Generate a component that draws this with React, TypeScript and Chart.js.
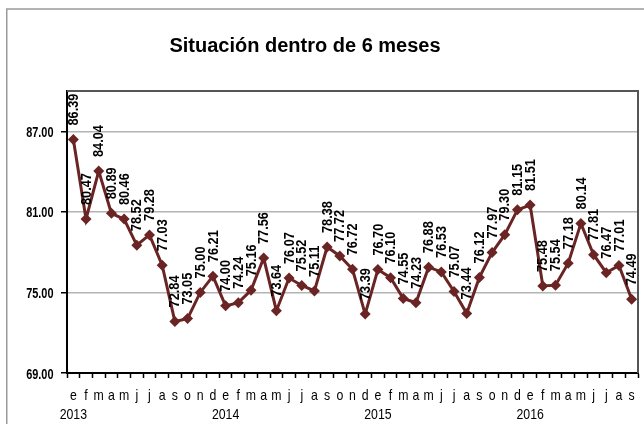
import React, { useEffect, useRef } from 'react';
import { Chart, registerables } from 'chart.js';

Chart.register(...registerables);

const TITLE = 'Situación dentro de 6 meses';
const monthLetters = ['e', 'f', 'm', 'a', 'm', 'j', 'j', 'a', 's', 'o', 'n', 'd'];
const years = ['2013', '2014', '2015', '2016'];
const values2013 = [86.39, 80.47, 84.04, 80.89, 80.46, 78.52, 79.28, 77.03, 72.84, 73.05, 75.0, 76.21];
const values2014 = [74.0, 74.24, 75.16, 77.56, 73.64, 76.07, 75.52, 75.11, 78.38, 77.72, 76.72, 73.39];
const values2015 = [76.7, 76.1, 74.55, 74.23, 76.88, 76.53, 75.07, 73.44, 76.12, 77.97, 79.3, 81.15];
const values2016 = [81.51, 75.48, 75.54, 77.18, 80.14, 77.81, 76.47, 77.01, 74.49];
const yTicks = [69, 75, 81, 87];
const Y_MIN = 69;
const Y_MAX = 90;

const values = [...values2013, ...values2014, ...values2015, ...values2016];
const labels = values.map((_, i) => monthLetters[i % 12]);
const yearOf = (i: number) => (i % 12 === 0 ? years[Math.floor(i / 12)] : '');

const FONT = "'Liberation Sans', Arial, sans-serif";
const LINE_COLOR = '#6B2424';

function narrowText(ctx: any, text: string, x: number, y: number, align: string, sx: number) {
  ctx.save();
  ctx.translate(x, y);
  ctx.scale(sx, 1);
  ctx.textAlign = align;
  ctx.fillText(text, 0, 0);
  ctx.restore();
}

const framePlugin = {
  id: 'frame',
  beforeDraw(chart: any) {
    const ctx = chart.ctx;
    ctx.save();
    ctx.fillStyle = '#ffffff';
    ctx.fillRect(0, 0, chart.width, chart.height);
    ctx.strokeStyle = '#9a9a9a';
    ctx.lineWidth = 1.5;
    ctx.strokeRect(6.75, 9, chart.width + 20, chart.height + 20);
    ctx.fillStyle = '#000000';
    ctx.font = `bold 20px ${FONT}`;
    ctx.textAlign = 'center';
    ctx.textBaseline = 'alphabetic';
    ctx.fillText(TITLE, 305, 52);
    ctx.restore();
  },
  afterDraw(chart: any) {
    const { ctx, chartArea } = chart;
    ctx.save();
    ctx.strokeStyle = '#555555';
    ctx.lineWidth = 2;
    ctx.beginPath();
    ctx.moveTo(chartArea.left, chartArea.top);
    ctx.lineTo(chartArea.right, chartArea.top);
    ctx.lineTo(chartArea.right, chartArea.bottom);
    ctx.stroke();

    // axis labels
    const xs = chart.scales.x;
    const ys = chart.scales.y;
    ctx.fillStyle = '#000000';
    ctx.textBaseline = 'alphabetic';
    ctx.font = `bold 14px ${FONT}`;
    yTicks.forEach((v) => {
      narrowText(ctx, v.toFixed(2), 53.5, ys.getPixelForValue(v) + 5.5, 'right', 0.78);
    });
    ctx.font = `15px ${FONT}`;
    labels.forEach((m, i) => {
      const x = xs.getPixelForValue(i);
      narrowText(ctx, m, x, 399.5, 'center', 0.82);
      const yr = yearOf(i);
      if (yr) narrowText(ctx, yr, x, 418.5, 'center', 0.82);
    });
    ctx.restore();
  },
};

const labelPlugin = {
  id: 'vlabels',
  afterDatasetsDraw(chart: any) {
    const ctx = chart.ctx;
    const meta = chart.getDatasetMeta(0);
    const data = chart.data.datasets[0].data as number[];
    ctx.save();
    ctx.fillStyle = '#000000';
    ctx.font = `bold 15px ${FONT}`;
    ctx.textAlign = 'left';
    ctx.textBaseline = 'middle';
    meta.data.forEach((pt: any, i: number) => {
      ctx.save();
      ctx.translate(pt.x, pt.y - 14);
      ctx.rotate(-Math.PI / 2);
      ctx.scale(0.85, 1);
      ctx.fillText(data[i].toFixed(2), 0, 0.5);
      ctx.restore();
    });
    ctx.restore();
  },
};

export default function App() {
  const ref = useRef<HTMLCanvasElement | null>(null);

  useEffect(() => {
    document.body.style.margin = '0';
    const canvas = ref.current;
    if (!canvas) return;
    const chart = new Chart(canvas, {
      type: 'line',
      data: {
        labels,
        datasets: [
          {
            data: values,
            borderColor: LINE_COLOR,
            backgroundColor: LINE_COLOR,
            borderWidth: 3,
            pointStyle: 'rectRot',
            pointRadius: 5.5,
            pointBorderWidth: 0,
            pointBackgroundColor: LINE_COLOR,
            tension: 0,
          },
        ],
      },
      options: {
        responsive: false,
        animation: false,
        layout: { padding: { top: 91, right: 6, left: 0, bottom: 0 } },
        plugins: {
          legend: { display: false },
          title: { display: false },
          tooltip: { enabled: false },
        },
        scales: {
          x: {
            type: 'category',
            offset: true,
            grid: {
              offset: true,
              drawOnChartArea: false,
              drawTicks: true,
              tickLength: 5,
              tickColor: '#000000',
              tickWidth: 1.5,
            },
            border: { color: '#000000', width: 2 },
            ticks: { display: false, autoSkip: false, maxRotation: 0, minRotation: 0 },
            afterFit(scale: any) {
              scale.height = 51;
            },
          },
          y: {
            type: 'linear',
            min: Y_MIN,
            max: Y_MAX,
            grid: {
              color: '#b4b4b4',
              lineWidth: 1.5,
              tickLength: 6,
              tickColor: '#000000',
              tickWidth: 1.5,
            },
            border: { color: '#000000', width: 2 },
            ticks: { display: false, stepSize: 6 },
            afterBuildTicks(scale: any) {
              scale.ticks = yTicks.map((v) => ({ value: v }));
            },
            afterFit(scale: any) {
              scale.width = 67;
            },
          },
        },
      },
      plugins: [framePlugin, labelPlugin],
    });
    return () => chart.destroy();
  }, []);

  return (
    <div style={{ width: 644, height: 424 }}>
      <canvas ref={ref} width={644} height={424} style={{ display: 'block' }} />
    </div>
  );
}
